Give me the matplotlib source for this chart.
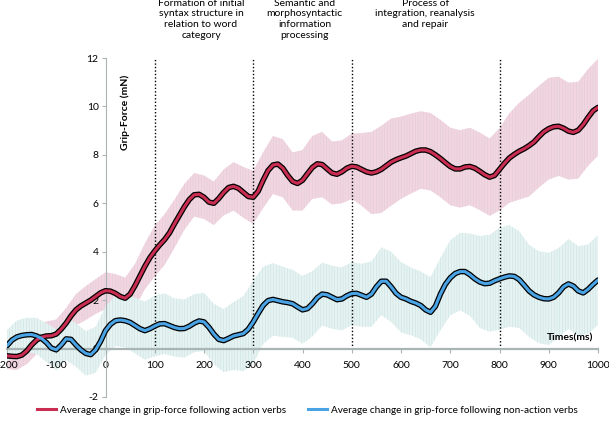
import numpy as np
import matplotlib
matplotlib.use("Agg")
import matplotlib.pyplot as plt
from matplotlib.lines import Line2D

plt.rcParams['font.family'] = ['Lato', 'DejaVu Sans']
plt.rcParams['hatch.linewidth'] = 0.4

# mean curves sampled every 10 ms
time_ms = np.arange(-200, 1001, 10)
action_mean = [
    -0.30, -0.32, -0.33, -0.27, -0.10, 0.15, 0.35, 0.47, 0.52, 0.53,
    0.60, 0.80, 1.05, 1.35, 1.60, 1.76, 1.88, 2.00, 2.15, 2.30,
    2.39, 2.37, 2.28, 2.15, 2.08, 2.25, 2.60, 3.00, 3.40, 3.75,
    4.03, 4.28, 4.50, 4.78, 5.15, 5.50, 5.85, 6.15, 6.35, 6.37,
    6.25, 6.05, 6.00, 6.20, 6.45, 6.65, 6.70, 6.62, 6.45, 6.28,
    6.25, 6.50, 6.95, 7.35, 7.58, 7.62, 7.45, 7.15, 6.90, 6.82,
    6.95, 7.22, 7.48, 7.63, 7.60, 7.42, 7.25, 7.20, 7.30, 7.45,
    7.53, 7.50, 7.40, 7.30, 7.25, 7.30, 7.40, 7.55, 7.70, 7.80,
    7.88, 7.95, 8.05, 8.15, 8.20, 8.20, 8.13, 8.00, 7.85, 7.68,
    7.52, 7.42, 7.42, 7.50, 7.52, 7.45, 7.32, 7.18, 7.08, 7.15,
    7.40, 7.65, 7.87, 8.02, 8.15, 8.25, 8.38, 8.53, 8.75, 8.95,
    9.08, 9.16, 9.18, 9.10, 8.98, 8.93, 9.02, 9.25, 9.55, 9.82,
    9.96]
nonaction_mean = [
    0.12, 0.35, 0.48, 0.54, 0.57, 0.58, 0.52, 0.42, 0.25, 0.02,
    -0.05, 0.15, 0.40, 0.38, 0.15, -0.05, -0.20, -0.25, -0.05, 0.30,
    0.74, 1.00, 1.15, 1.18, 1.15, 1.08, 0.95, 0.82, 0.74, 0.82,
    0.93, 1.02, 1.03, 0.95, 0.87, 0.82, 0.83, 0.92, 1.05, 1.14,
    1.10, 0.88, 0.60, 0.38, 0.33, 0.42, 0.52, 0.57, 0.62, 0.80,
    1.10, 1.45, 1.78, 1.98, 2.03, 1.98, 1.93, 1.90, 1.85, 1.72,
    1.60, 1.65, 1.85, 2.10, 2.25, 2.22, 2.12, 2.02, 2.05, 2.18,
    2.27, 2.28, 2.20, 2.12, 2.25, 2.55, 2.78, 2.78, 2.55, 2.28,
    2.12, 2.05, 1.95, 1.88, 1.78, 1.60, 1.50, 1.75, 2.25, 2.65,
    2.92, 3.10, 3.18, 3.18, 3.05, 2.88, 2.75, 2.68, 2.70, 2.80,
    2.88, 2.95, 3.00, 2.98, 2.85, 2.62, 2.38, 2.22, 2.12, 2.06,
    2.05, 2.12, 2.30, 2.55, 2.67, 2.58, 2.38, 2.30, 2.45, 2.65,
    2.83]

# variability bands sampled every 20 ms
band_time_ms = np.arange(-200, 1001, 20)
action_band_mean = action_mean[::2]
nonaction_band_mean = nonaction_mean[::2]
action_sd = [0.55, 0.55, 0.55, 0.58, 0.60, 0.60, 0.62, 0.65, 0.70, 0.72,
             0.76, 0.80, 0.85, 0.90, 0.95, 1.05, 1.05, 1.00, 0.95, 0.90,
             0.90, 0.90, 0.95, 1.00, 1.05, 1.10, 1.15, 1.20, 1.20, 1.20,
             1.25, 1.30, 1.35, 1.30, 1.30, 1.35, 1.50, 1.70, 1.80, 1.80,
             1.70, 1.65, 1.60, 1.60, 1.60, 1.60, 1.60, 1.60, 1.60, 1.60,
             1.70, 1.85, 2.00, 2.10, 2.10, 2.10, 2.05, 2.00, 2.00, 2.00,
             2.00]
nonaction_sd = [0.65, 0.68, 0.70, 0.75, 0.80, 0.85, 0.88, 0.90, 0.92, 0.95,
                1.00, 1.05, 1.10, 1.15, 1.20, 1.25, 1.25, 1.20, 1.20, 1.20,
                1.20, 1.25, 1.30, 1.40, 1.55, 1.70, 1.60, 1.50, 1.45, 1.40,
                1.40, 1.35, 1.30, 1.30, 1.30, 1.30, 1.30, 1.35, 1.40, 1.45,
                1.45, 1.40, 1.40, 1.45, 1.50, 1.55, 1.60, 1.70, 1.90, 2.00,
                2.10, 2.10, 2.00, 1.90, 1.90, 1.90, 1.85, 1.85, 1.85, 1.85,
                1.85]

phase_bounds = [100, 300, 500, 800]
phase_labels = ["Formation of initial\nsyntax structure in\nrelation to word\ncategory",
                "Semantic and\nmorphosyntactic\ninformation\nprocessing",
                "Process of\nintegration, reanalysis\nand repair"]
phase_label_x = [194, 404, 649]

x_ticks = [-200, -100, 0, 100, 200, 300, 400, 500, 600, 700, 800, 900, 1000]
y_ticks = [-2, 0, 2, 4, 6, 8, 10, 12]

legend_labels = ["Average change in grip-force following action verbs",
                 "Average change in grip-force following non-action verbs"]

red = '#c92d52'
blue = '#4aa3e4'

fig = plt.figure(figsize=(6.09, 4.22), dpi=100)
ax = fig.add_axes([7/609, 25/422, 591/609, 339/422])

bam = np.array(action_band_mean); asd = np.array(action_sd)
bnm = np.array(nonaction_band_mean); nsd = np.array(nonaction_sd)

ax.fill_between(band_time_ms, bam - asd, bam + asd, facecolor='#f3d5e1', edgecolor='#dccfd7',
                hatch='||||||', linewidth=0, zorder=1)
ax.fill_between(band_time_ms, bnm - nsd, bnm + nsd, facecolor='#e6f3f2', edgecolor='#c9e2e2',
                hatch='||||||', linewidth=0, zorder=1)

ax.vlines(phase_bounds, 0, 12, colors='black', linestyles=(0, (1, 1.5)), linewidth=1.0, zorder=2)

for series, col in ((action_mean, red), (nonaction_mean, blue)):
    ax.plot(time_ms, series, color='black', lw=4.0, solid_capstyle='round',
            solid_joinstyle='round', zorder=3)
    ax.plot(time_ms, series, color=col, lw=2.2, solid_capstyle='round',
            solid_joinstyle='round', zorder=4)

ax.set_xlim(-200, 1000)
ax.set_ylim(-2, 12)
ax.spines['left'].set_position(('data', 0))
ax.spines['bottom'].set_position(('data', 0))
ax.spines['top'].set_visible(False)
ax.spines['right'].set_visible(False)
ax.spines['left'].set_color('#a9b4b4')
ax.spines['left'].set_linewidth(0.8)
ax.spines['bottom'].set_color('#a9b4b4')
ax.spines['bottom'].set_linewidth(1.6)
ax.spines['left'].set_zorder(2.5)
ax.spines['bottom'].set_zorder(2.5)

ax.set_xticks(x_ticks)
ax.set_yticks(y_ticks)
ax.set_xticklabels([str(v) for v in x_ticks])
ax.set_yticklabels([str(v) for v in y_ticks])
ax.tick_params(axis='both', colors='#a9b4b4', labelcolor='black', labelsize=7.5,
               length=3, width=0.8, direction='out')
ax.tick_params(axis='x', pad=6)
ax.tick_params(axis='y', pad=2)
for lbl in ax.get_xticklabels():
    lbl.set_clip_on(False)

for lab, xp in zip(phase_labels, phase_label_x):
    ax.text(xp, 14.45, lab, ha='center', va='top', fontsize=7.5, linespacing=1.25,
            clip_on=False)

ax.text(40, 9.75, "Grip-Force (mN)", rotation=90, ha='center', va='center',
        fontsize=7.5, fontweight='bold')
ax.text(990, 0.45, "Times(ms)", ha='right', va='center', fontsize=7.5, fontweight='bold')

handles = [Line2D([0], [0], color=red, lw=2.2), Line2D([0], [0], color=blue, lw=2.2)]
fig.legend(handles, legend_labels, loc='center', bbox_to_anchor=(0.505, 0.028), ncol=2,
           frameon=False, fontsize=7.2, handlelength=1.9, handletextpad=0.4,
           columnspacing=2.2, borderpad=0.2)

fig.savefig('out.png', dpi=100)
